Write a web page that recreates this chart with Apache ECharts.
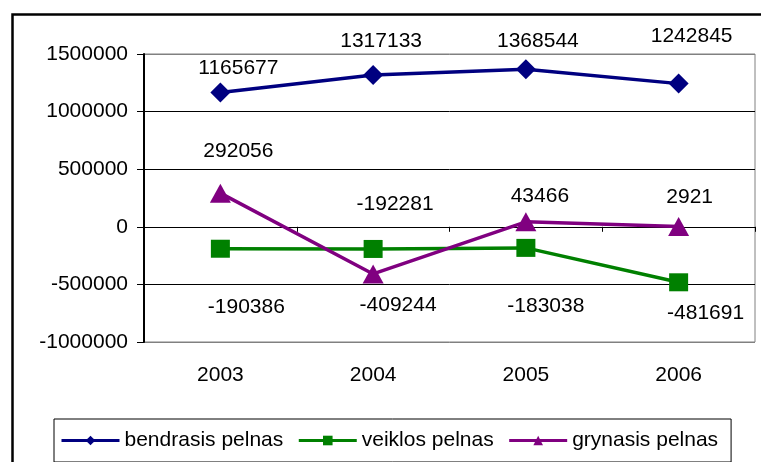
<!DOCTYPE html>
<html>
<head>
<meta charset="utf-8">
<script src="https://cdn.jsdelivr.net/npm/echarts@6/dist/echarts.min.js"></script>
<style>
    html, body { margin: 0; padding: 0; background: #fff; }
    #chart { width: 761px; height: 462px; }
</style>
</head>
<body>
<div id="chart"></div>
<script>
    // metai
    var years = ['2003', '2004', '2005', '2006'];
    // pelno reiksmes
    var bendrasis = [1165677, 1317133, 1368544, 1242845];
    var veiklos = [-190386, -192281, -183038, -481691];
    var grynasis = [292056, -409244, 43466, 2921];
    var seriesNames = ['bendrasis pelnas', 'veiklos pelnas', 'grynasis pelnas'];

    // etikeciu poslinkiai nuo tasko (kaip originale)
    var bendrasisShift = [[18, -24], [8, -34], [12, -28], [13, -47]];
    var veiklosShift = [[26, 58], [22, -45], [20, 58], [27, 31]];
    var grynasisShift = [[18, -42], [25, 31], [14, -26], [11, -29]];

    var font = 'Liberation Sans, Arial, sans-serif';
    var fontSize = 21;

    function withLabels(values, shifts) {
        return values.map(function(v, i) {
            return {
                value: v,
                label: { offset: shifts[i] }
            };
        });
    }

    function lineSeries(name, values, shifts, color, symbol, size) {
        return {
            name: name,
            type: 'line',
            xAxisIndex: 0,
            data: withLabels(values, shifts),
            symbol: symbol,
            symbolSize: size,
            showAllSymbol: true,
            lineStyle: { color: color, width: 3.5 },
            itemStyle: { color: color },
            emphasis: { disabled: true },
            label: {
                show: true,
                position: 'inside',
                color: '#000',
                fontSize: fontSize,
                fontFamily: font
            },
            z: 3
        };
    }

    var chart = echarts.init(document.getElementById('chart'), null, { renderer: 'canvas' });
    var option = {
        animation: false,
        backgroundColor: '#fff',
        textStyle: { fontFamily: font },
        // remelis aplink diagrama
        graphic: [{
            type: 'polyline',
            shape: { points: [[12.5, 470], [12.5, 14.5], [770, 14.5]] },
            style: { fill: null, stroke: '#000', lineWidth: 2.5 },
            silent: true,
            z: 10
        }],
        grid: {
            left: 144,
            right: 6,
            top: 54,
            bottom: 120,
            show: true,
            borderColor: '#808080',
            borderWidth: 1,
            backgroundColor: 'transparent'
        },
        legend: {
            left: 54,
            top: 419,
            data: seriesNames,
            itemWidth: 58,
            itemHeight: 12,
            itemGap: 14,
            borderColor: '#000',
            borderWidth: 1,
            padding: [11, 13, 11, 6],
            lineStyle: { width: 3 },
            textStyle: { fontSize: fontSize, color: '#000', fontFamily: font }
        },
        xAxis: [{
            type: 'category',
            data: years,
            boundaryGap: true,
            axisLine: { show: false, onZero: false },
            axisTick: { show: false },
            splitLine: { show: false },
            axisLabel: { color: '#000', fontSize: fontSize, fontFamily: font, margin: 23 }
        }, {
            type: 'category',
            data: years,
            boundaryGap: true,
            position: 'bottom',
            axisLine: { show: true, onZero: true, lineStyle: { color: '#000', width: 1 } },
            axisTick: { show: true, length: 5, lineStyle: { color: '#000' } },
            axisLabel: { show: false },
            splitLine: { show: false }
        }],
        yAxis: {
            type: 'value',
            min: -1000000,
            max: 1500000,
            interval: 500000,
            axisLine: { show: true, lineStyle: { color: '#000', width: 2 } },
            axisTick: { show: true, length: 7, lineStyle: { color: '#000' } },
            axisLabel: {
                color: '#000',
                fontSize: fontSize,
                fontFamily: font,
                margin: 16,
                formatter: function(v) { return String(v); }
            },
            splitLine: {
                show: true,
                lineStyle: { color: ['#808080', '#000', '#000', '#000', '#000', '#808080'], width: 1 }
            }
        },
        series: [
            lineSeries(seriesNames[0], bendrasis, bendrasisShift, '#000080', 'diamond', [20, 20]),
            lineSeries(seriesNames[1], veiklos, veiklosShift, '#008000', 'rect', [19, 18]),
            lineSeries(seriesNames[2], grynasis, grynasisShift, '#800080', 'triangle', [21, 19])
        ]
    };
    chart.setOption(option);
</script>
</body>
</html>
